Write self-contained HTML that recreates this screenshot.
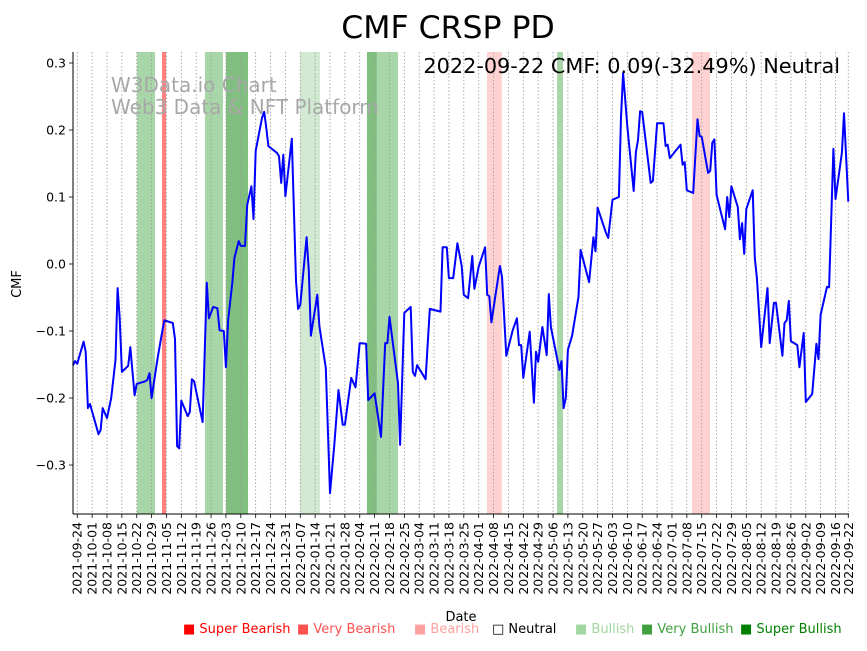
<!DOCTYPE html>
<html><head><meta charset="utf-8"><style>
body{margin:0;background:#fff;width:867px;height:646px;overflow:hidden;font-family:"Liberation Sans","DejaVu Sans",sans-serif}
svg text{font-family:"DejaVu Sans","Liberation Sans",sans-serif}
</style></head><body>
<svg id="chart" width="867" height="646" xmlns="http://www.w3.org/2000/svg"></svg>
<script>
const startDate = new Date(Date.UTC(2021,8,22));
const days = [0,1,2,5,6,7,8,12,13,14,16,18,20,21,22,23,26,27,29,30,34,35,36,37,39,40,41,43,47,48,49,50,51,54,55,56,57,61,63,64,66,68,69,71,72,73,75,76,78,79,81,82,84,85,86,89,90,91,92,96,97,98,99,100,103,105,106,107,110,111,112,115,116,119,121,123,125,127,128,131,133,135,138,139,142,145,147,148,149,153,154,156,159,160,161,162,166,168,173,174,176,177,179,181,183,184,186,188,189,191,194,195,196,197,201,202,204,207,209,210,211,212,215,217,218,219,221,223,224,225,229,230,231,232,233,235,238,239,243,245,246,247,251,252,254,257,258,259,261,264,265,266,267,268,272,273,275,278,279,280,281,286,287,288,289,292,294,295,296,299,300,301,302,303,307,308,309,310,313,314,315,316,317,320,321,322,324,327,328,330,331,334,335,336,337,338,341,342,344,345,348,350,351,352,355,356,358,359,362,363,365];
const values = [-0.151,-0.145,-0.149,-0.116,-0.131,-0.215,-0.209,-0.254,-0.248,-0.215,-0.230,-0.200,-0.143,-0.036,-0.081,-0.161,-0.152,-0.124,-0.196,-0.179,-0.175,-0.173,-0.163,-0.200,-0.158,-0.137,-0.119,-0.084,-0.088,-0.112,-0.272,-0.275,-0.204,-0.227,-0.221,-0.172,-0.175,-0.236,-0.028,-0.081,-0.064,-0.066,-0.099,-0.100,-0.154,-0.084,-0.028,0.009,0.034,0.027,0.027,0.088,0.116,0.067,0.169,0.218,0.227,0.203,0.176,0.166,0.161,0.121,0.163,0.101,0.187,-0.025,-0.067,-0.061,0.040,-0.010,-0.107,-0.046,-0.093,-0.155,-0.342,-0.270,-0.188,-0.240,-0.240,-0.170,-0.184,-0.118,-0.119,-0.203,-0.193,-0.258,-0.118,-0.118,-0.079,-0.178,-0.270,-0.073,-0.064,-0.161,-0.167,-0.151,-0.172,-0.067,-0.071,0.025,0.025,-0.021,-0.021,0.031,-0.003,-0.046,-0.051,0.012,-0.037,-0.004,0.025,-0.046,-0.048,-0.087,-0.003,-0.019,-0.137,-0.099,-0.081,-0.121,-0.121,-0.170,-0.101,-0.207,-0.131,-0.146,-0.094,-0.136,-0.045,-0.094,-0.158,-0.145,-0.215,-0.200,-0.128,-0.107,-0.049,0.021,-0.027,0.040,0.019,0.084,0.046,0.039,0.096,0.100,0.219,0.285,0.204,0.109,0.167,0.185,0.228,0.227,0.121,0.124,0.210,0.210,0.176,0.178,0.158,0.178,0.148,0.152,0.110,0.106,0.216,0.191,0.190,0.136,0.139,0.181,0.186,0.103,0.052,0.100,0.070,0.116,0.085,0.037,0.061,0.015,0.082,0.110,0.009,-0.021,-0.124,-0.036,-0.118,-0.058,-0.058,-0.137,-0.088,-0.084,-0.055,-0.115,-0.121,-0.154,-0.103,-0.206,-0.194,-0.119,-0.142,-0.076,-0.034,-0.035,0.172,0.097,0.166,0.225,0.093];
const bandStart = [30.1,41.9,62.1,72,106.9,138.4,143.1,194.9,227.9,291.4];
const bandEnd = [38.6,43.8,70.6,82.4,116.3,143.1,153,201.9,230.7,299.9];
const bandLevel = ['bull','sbear','bull','vbull','lbull','vbull','bull','bear','bull','bear'];
const yTicks = [0.3,0.2,0.1,0.0,-0.1,-0.2,-0.3];
const yTickLabels = ['0.3','0.2','0.1','0.0','\u22120.1','\u22120.2','\u22120.3'];
const xTickDays = [];
for(let k=0;k<52;k++) xTickDays.push(2+7*k);
xTickDays.push(365);

const NS='http://www.w3.org/2000/svg';
const svg=document.getElementById('chart');
const L=73,R=849,T=52,B=514;
const xs=d=>L+d*2.124;
const ys=v=>264-v*670;
function mk(tag,attrs,parent){const e=document.createElementNS(NS,tag);for(const k in attrs)e.setAttribute(k,attrs[k]);(parent||svg).appendChild(e);return e;}
const bandColor={sbear:'#ff8080',vbear:'#ffa0a0',bear:'#ffd2d2',lbull:'#d2ead2',bull:'#a9d6a9',vbull:'#80bf80'};

bandStart.forEach((s,i)=>{
  const r=mk('rect',{x:xs(s),y:T,width:xs(bandEnd[i])-xs(s),height:B-T,fill:bandColor[bandLevel[i]]});
  
  
});
xTickDays.forEach(d=>{
  const x=xs(d);
  const g=mk('line',{x1:x,y1:T,x2:x,y2:B,stroke:'#999','stroke-width':0.8,'stroke-dasharray':'1.5,2'});
  
  
  mk('line',{x1:x,y1:B,x2:x,y2:B+4,stroke:'#000','stroke-width':0.8});
  const dt=new Date(startDate.getTime()+d*86400000);
  const lbl=dt.toISOString().slice(0,10);
  const t=mk('text',{x:0,y:0,'font-size':12.5,'text-anchor':'end',transform:`translate(${x+4.5},${B+8}) rotate(-90)`});
  t.textContent=lbl;
  
  
});
yTicks.forEach((v,i)=>{
  const y=ys(v);
  mk('line',{x1:L-4,y1:y,x2:L,y2:y,stroke:'#000','stroke-width':0.8});
  const t=mk('text',{x:L-7,y:y+4.5,'font-size':12.5,'text-anchor':'end'});
  t.textContent=yTickLabels[i];
  
  
});
const w1=mk('text',{x:111,y:92,'font-size':20,fill:'#a8a8a8'});w1.textContent='W3Data.io Chart';


const w2=mk('text',{x:111,y:114,'font-size':20,fill:'#a8a8a8'});w2.textContent='Web3 Data & NFT Platform';


const pts=days.map((d,i)=>xs(d).toFixed(1)+','+ys(values[i]).toFixed(1)).join(' ');
const pl=mk('polyline',{points:pts,fill:'none',stroke:'#0000ff','stroke-width':2,'stroke-linejoin':'round'});


mk('line',{x1:L,y1:T,x2:L,y2:B,stroke:'#000','stroke-width':1});
mk('line',{x1:L,y1:B,x2:R,y2:B,stroke:'#000','stroke-width':1});
const ti=mk('text',{x:448,y:38,'font-size':31.5,'text-anchor':'middle'});ti.textContent='CMF CRSP PD';


const st=mk('text',{x:840,y:73,'font-size':20.8,'text-anchor':'end'});st.textContent='2022-09-22 CMF: 0.09(-32.49%) Neutral';


const yl=mk('text',{x:0,y:0,'font-size':13,'text-anchor':'middle',transform:'translate(21,284) rotate(-90)'});yl.textContent='CMF';


const xl=mk('text',{x:461,y:621,'font-size':13,'text-anchor':'middle'});xl.textContent='Date';


const leg=[['\u25A0 Super Bearish','#ff0000',183],['\u25A0 Very Bearish','#ff5050',297],['\u25A0 Bearish','#ffa0a0',414],['\u25A1 Neutral','#000',492],['\u25A0 Bullish','#a0d6a0',575],['\u25A0 Very Bullish','#40a040',641],['\u25A0 Super Bullish','#008000',740]];
leg.forEach(l=>{
  const t=mk('text',{x:l[2],y:633,'font-size':13,fill:l[1]});t.textContent=l[0];
  
  
});
</script>
</body></html>
